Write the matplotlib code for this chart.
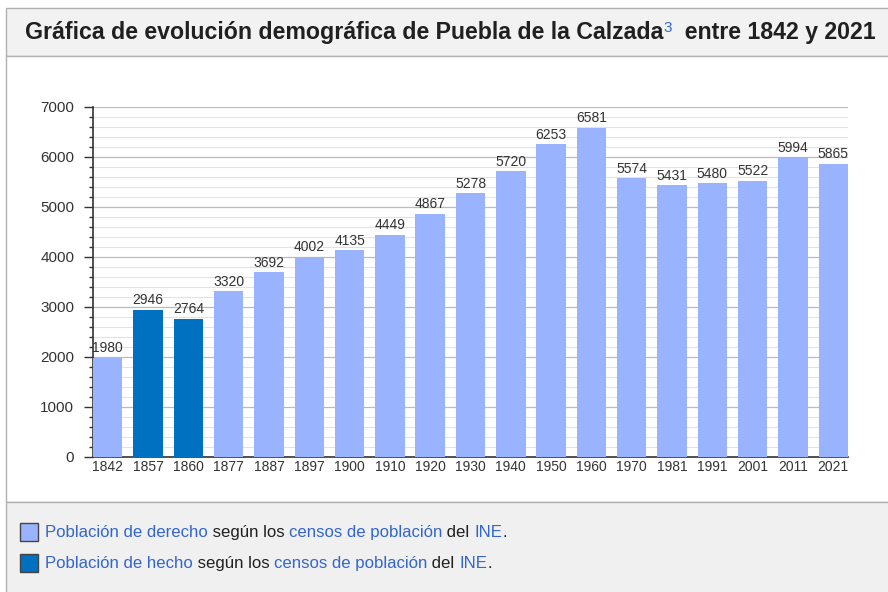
import matplotlib.pyplot as plt
from matplotlib.patches import Rectangle
from matplotlib.ticker import MultipleLocator

years = ['1842', '1857', '1860', '1877', '1887', '1897', '1900', '1910', '1920', '1930',
         '1940', '1950', '1960', '1970', '1981', '1991', '2001', '2011', '2021']
population = [1980, 2946, 2764, 3320, 3692, 4002, 4135, 4449, 4867, 5278,
              5720, 6253, 6581, 5574, 5431, 5480, 5522, 5994, 5865]
de_hecho = ['1857', '1860']  # these two censuses count "población de hecho"

light = '#99b3ff'
dark = '#0070c0'
link = '#3366cc'

W, H = 888, 592
fig = plt.figure(figsize=(W / 100, H / 100), dpi=100)
plt.rcParams['font.family'] = ['Liberation Sans', 'DejaVu Sans']

def px(x, y):
    return x / W, 1 - y / H

def box(x0, y0, x1, y1, fc, ec='#b0b0b0'):
    r = Rectangle(px(x0, y1), (x1 - x0) / W, (y1 - y0) / H, transform=fig.transFigure,
                  facecolor=fc, edgecolor=ec, lw=1, zorder=-5)
    fig.patches.append(r)

# frame: title band, chart area, legend band
box(6, 8, 900, 56, '#f2f2f2')
box(6, 56, 900, 502, 'white')
box(6, 502, 900, 600, '#f0f0f0')

renderer = fig.canvas.get_renderer()

def write_run(x, y, parts, size, weight='normal'):
    for text, color, extra in parts:
        kw = dict(color=color, fontsize=size, va='baseline', ha='left', fontweight=weight)
        dy = extra.pop('dy', 0)
        kw.update(extra)
        t = fig.text(*px(x, y - dy), text, **kw)
        bb = t.get_window_extent(renderer)
        x += bb.width

write_run(25, 39, [('Gráfica de evolución demográfica de Puebla de la Calzada', '#202020', {}),
                   ('3', link, {'fontsize': 11, 'fontweight': 'normal', 'dy': 7}),
                   ('  entre 1842 y 2021', '#202020', {})], 16.7, 'bold')

ax = fig.add_axes([93 / W, 1 - 457 / H, (848 - 93) / W, (457 - 107) / H])
x = range(len(years))
colors = [dark if y in de_hecho else light for y in years]
bw = 0.73
ax.bar(x, population, width=bw, align='edge', color=colors, zorder=3)
for i, v in enumerate(population):
    ax.text(i + bw / 2, v + 50, str(v), ha='center', va='bottom', fontsize=10,
            color='#333333', zorder=4)

ax.set_xlim(0, len(years) - 1 + bw)
ax.set_ylim(0, 7000)
ax.set_xticks([i + bw / 2 for i in x])
ax.set_xticklabels(years, fontsize=10, color='#333333')
ax.tick_params(axis='x', length=0, pad=2)
ax.yaxis.set_major_locator(MultipleLocator(1000))
ax.yaxis.set_minor_locator(MultipleLocator(200))
ax.tick_params(axis='y', which='major', length=6.5, width=1, color='#333333',
               labelsize=11, labelcolor='#333333', pad=7)
ax.tick_params(axis='y', which='minor', length=3, width=1, color='#333333')
ax.grid(axis='y', which='major', color='#bbbbbb', lw=0.9, zorder=0)
ax.grid(axis='y', which='minor', color='#e2e2e2', lw=0.8, zorder=0)
for s in ['top', 'right']:
    ax.spines[s].set_visible(False)
for s in ['left', 'bottom']:
    ax.spines[s].set_color('#333333')
    ax.spines[s].set_linewidth(1.2)

# legend band
for yy, col, first in [(537, light, 'Población de derecho'), (568, dark, 'Población de hecho')]:
    fig.patches.append(Rectangle(px(20, yy + 4), 18 / W, 18 / H, transform=fig.transFigure,
                                 facecolor=col, edgecolor='#444444', lw=1))
    write_run(45, yy, [(first, link, {}), (' según los ', '#202020', {}),
                       ('censos de población', link, {}), (' del ', '#202020', {}),
                       ('INE', link, {}), ('.', '#202020', {})], 12.1)

fig.savefig('out.png', dpi=100)
